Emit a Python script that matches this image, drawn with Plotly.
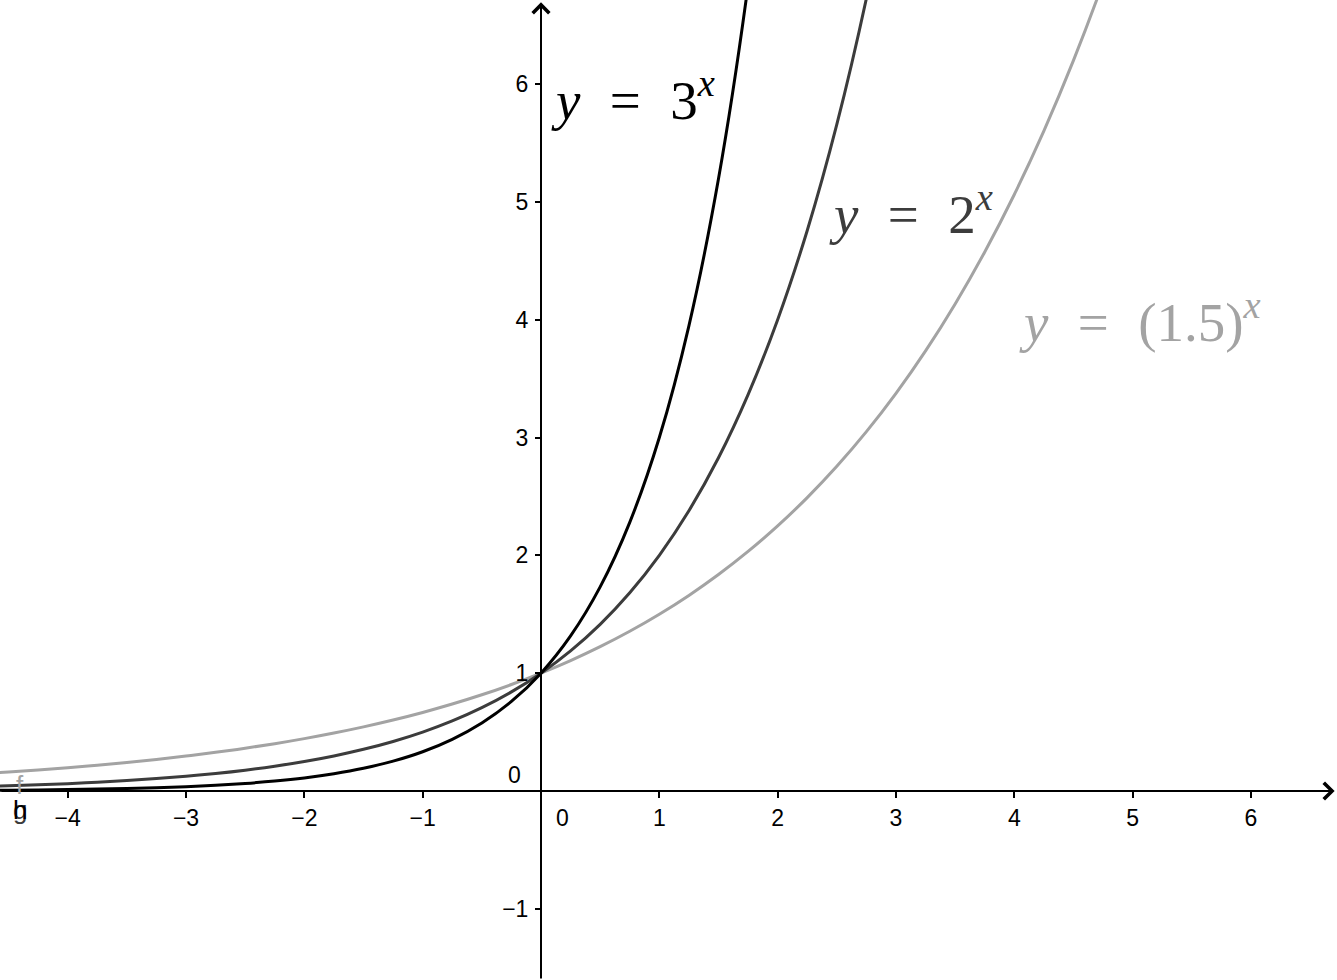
import plotly.graph_objects as go

# sample points
x_pts = [-4.75, -4.5, -4.25, -4.0, -3.75, -3.5, -3.25, -3.0, -2.75, -2.5, -2.25, -2.0,
         -1.75, -1.5, -1.25, -1.0, -0.75, -0.5, -0.25, 0.0, 0.25, 0.5, 0.75, 1.0,
         1.25, 1.5, 1.75, 2.0, 2.25, 2.5, 2.75, 3.0, 3.25, 3.5, 3.75, 4.0, 4.25,
         4.5, 4.75, 5.0]

y_3x = [0.0054, 0.0071, 0.0094, 0.0123, 0.0163, 0.0214, 0.0281, 0.0370, 0.0487, 0.0642,
        0.0844, 0.1111, 0.1462, 0.1925, 0.2533, 0.3333, 0.4387, 0.5774, 0.7598, 1.0,
        1.316, 1.732, 2.280, 3.0, 3.948, 5.196, 6.839, 9.0]
y_2x = [0.0372, 0.0442, 0.0526, 0.0625, 0.0743, 0.0884, 0.1051, 0.125, 0.1487, 0.1768,
        0.2102, 0.25, 0.2973, 0.3536, 0.4204, 0.5, 0.5946, 0.7071, 0.8409, 1.0,
        1.189, 1.414, 1.682, 2.0, 2.378, 2.828, 3.364, 4.0, 4.757, 5.657, 6.727, 8.0]
y_15x = [0.1457, 0.1609, 0.1781, 0.1975, 0.2185, 0.2420, 0.2678, 0.2963, 0.3280, 0.3629,
         0.4017, 0.4444, 0.4918, 0.5443, 0.6024, 0.6667, 0.7378, 0.8165, 0.9036, 1.0,
         1.1067, 1.2247, 1.3554, 1.5, 1.66, 1.8371, 2.0331, 2.25, 2.49, 2.7557, 3.0497,
         3.375, 3.7351, 4.1335, 4.5746, 5.0625, 5.6026, 6.2004, 6.8619, 7.5938]

x_ticks = [-4, -3, -2, -1, 1, 2, 3, 4, 5, 6]
y_ticks = [-1, 1, 2, 3, 4, 5, 6]

X_RANGE = [-4.572, 6.727]
Y_RANGE = [-1.604, 6.713]

C3, C2, C15 = "#000000", "#3c3c3c", "#a3a3a3"

fig = go.Figure()
for ys, col in [(y_15x, C15), (y_2x, C2), (y_3x, C3)]:
    fig.add_trace(go.Scatter(x=x_pts[:len(ys)], y=ys, mode="lines",
                             line=dict(color=col, width=3, shape="spline"),
                             hoverinfo="skip", showlegend=False))

ypos = (0 - Y_RANGE[0]) / (Y_RANGE[1] - Y_RANGE[0])
xpos = (0 - X_RANGE[0]) / (X_RANGE[1] - X_RANGE[0])
tickfont = dict(family="Liberation Sans, Arial, sans-serif", size=23, color="#000")

fig.update_layout(
    width=1337, height=980, margin=dict(l=0, r=0, t=0, b=0),
    plot_bgcolor="white", paper_bgcolor="white",
    xaxis=dict(range=X_RANGE, anchor="free", position=ypos, showgrid=False,
               zeroline=False, showline=False, tickvals=x_ticks,
               ticktext=["\u2212%d" % -v if v < 0 else str(v) for v in x_ticks],
               ticks="outside", ticklen=6, tickwidth=2, tickcolor="#000",
               tickfont=tickfont, ticklabelstandoff=0),
    yaxis=dict(range=Y_RANGE, anchor="free", position=xpos, showgrid=False,
               zeroline=False, showline=False, tickvals=y_ticks,
               ticktext=["\u2212%d" % -v if v < 0 else str(v) for v in y_ticks],
               ticks="outside", ticklen=6, tickwidth=2, tickcolor="#000",
               tickfont=tickfont, ticklabelstandoff=2),
)

# axes with arrowheads
fig.add_annotation(x=X_RANGE[1] - 0.02, y=0, ax=X_RANGE[0], ay=0, xref="x", yref="y",
                   axref="x", ayref="y", showarrow=True, arrowhead=4, arrowsize=1.6,
                   arrowwidth=2, arrowcolor="#000", text="")
fig.add_annotation(x=0, y=Y_RANGE[1] - 0.02, ax=0, ay=Y_RANGE[0], xref="x", yref="y",
                   axref="x", ayref="y", showarrow=True, arrowhead=4, arrowsize=1.6,
                   arrowwidth=2, arrowcolor="#000", text="")

# origin labels
fig.add_annotation(x=0.18, y=-0.23, text="0", showarrow=False, font=tickfont)
fig.add_annotation(x=-0.22, y=0.14, text="0", showarrow=False, font=tickfont)

# curve labels
lab_font = "Liberation Serif, Times New Roman, serif"
sp = "\u2004\u2009"
labels = [
    (0.07, 5.89, "<i>y</i>" + sp + "=" + sp + "3<sup><i>x</i></sup>", C3),
    (2.42, 4.93, "<i>y</i>" + sp + "=" + sp + "2<sup><i>x</i></sup>", C2),
    (4.02, 4.01, "<i>y</i>" + sp + "=" + sp + "(1.5)<sup><i>x</i></sup>", C15),
]
for lx, ly, txt, col in labels:
    fig.add_annotation(x=lx, y=ly, text=txt, showarrow=False, xanchor="left",
                       yanchor="middle", font=dict(family=lab_font, size=55, color=col))

# function name labels at left edge
small = "Liberation Sans, Arial, sans-serif"
fig.add_annotation(x=-4.40, y=0.05, text="f", showarrow=False,
                   font=dict(family=small, size=26, color=C15))
fig.add_annotation(x=-4.40, y=-0.16, text="g", showarrow=False,
                   font=dict(family=small, size=26, color=C2))
fig.add_annotation(x=-4.40, y=-0.16, text="h", showarrow=False,
                   font=dict(family=small, size=26, color=C3))

fig.write_html("out.html", config={"displayModeBar": False},
               post_script="document.body.style.margin='0';")
